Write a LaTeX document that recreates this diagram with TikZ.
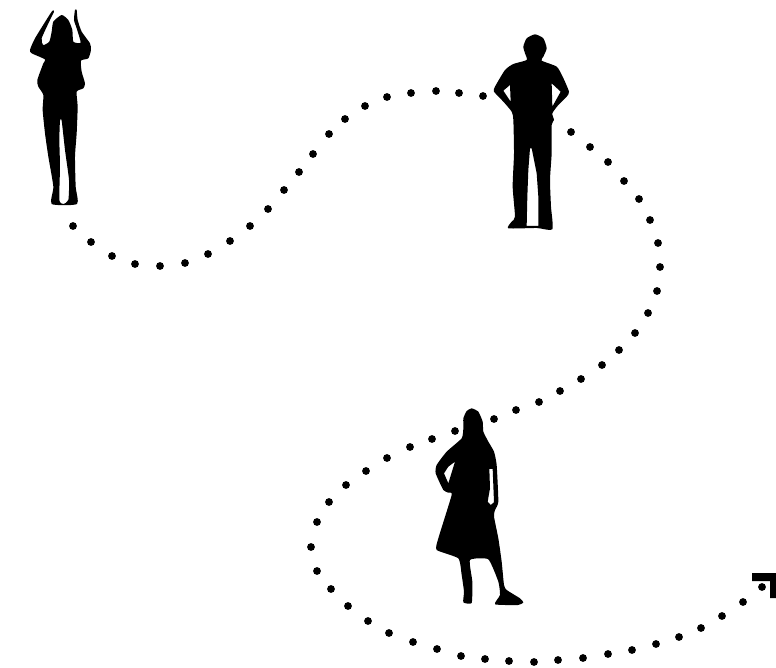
\documentclass[tikz,border=0pt]{standalone}

\begin{document}
\begin{tikzpicture}[
    x=0.02cm,
    y=-0.02cm,
    trail/.style={fill=black},
    figure/.style={fill=black, even odd rule, shift={#1}, scale=0.3333}
]

\useasboundingbox (0, 0) rectangle (776, 668);

% dotted trail
\foreach \px/\py in {
    73/226, 91/242, 112/256, 135/264, 160/266, 185/263, 208/254, 230/241,
    250/226, 268/209, 284/190, 299/172, 313/154, 329/134, 345/119, 365/106,
    387/97, 411/93, 436/91, 459/93, 483/96,
    571/132, 590/147, 608/162, 624/181, 639/199, 650/220, 658/243, 660/267,
    657/291, 648/313, 635/333, 619/350, 602/365, 581/379, 560/391, 539/402,
    516/410, 494/419, 455/431, 432/439, 410/447, 387/458, 366/471, 346/485,
    329/502, 317/522, 311/547, 317/571, 331/589, 348/606, 368/621, 389/633,
    413/642, 437/649, 461/656, 485/659, 509/661, 534/662, 558/660, 583/658,
    608/654, 632/650, 656/644, 679/637, 701/628, 722/616, 743/602, 762/587}
    \fill[trail] (\px, \py) circle (3.9);

% figure with raised arms
\fill[figure={(10, 0)}]
    plot[smooth cycle, tension=0.35] coordinates {
    (155,45) (175,60) (187,90) (190,125) (212,128) (200,85) (192,60) (195,30)
    (200,30) (203,60) (215,95) (240,130) (243,150) (235,175) (213,182)
    (215,215) (225,250) (220,265) (200,275) (203,320) (200,400) (195,470)
    (197,560) (201,612) (125,612) (130,560) (115,470) (105,400) (98,330)
    (100,285) (85,260) (82,240) (100,190) (105,178) (65,160) (60,150) (75,115)
    (125,35) (132,35) (120,60) (95,115) (100,135) (118,125) (125,95) (130,65)}
    plot[smooth cycle, tension=0.35] coordinates {
    (150,362) (155,362) (165,450) (177,540) (175,600) (160,612) (148,600)
    (150,500) (148,420)};

% figure with hands on hips
\fill[figure={(470, 20)}]
    plot[smooth cycle, tension=0.35] coordinates {
    (195,43) (220,55) (230,85) (220,110) (215,122) (260,140) (278,170) (297,215)
    (290,230) (265,255) (247,280) (252,300) (245,315) (245,400) (240,480)
    (243,560) (247,628) (200,624) (115,625) (125,605) (135,590) (128,500)
    (132,400) (130,300) (125,275) (100,245) (72,215) (75,200) (105,150)
    (130,132) (170,120) (165,100) (160,80) (170,55)}
    (180,385) -- (185,385) -- (200,460) -- (205,530) -- (205,618) -- (170,618)
    -- (172,530) -- (175,450) -- cycle
    (245,190) -- (272,215) -- (247,260) -- cycle
    (100,212) -- (120,195) -- (122,245) -- cycle;

% figure in a dress
\fill[figure={(420, 395)}]
    plot[smooth cycle, tension=0.3] coordinates {
    (155,40) (175,50) (188,80) (190,110) (205,140) (222,170) (230,210) (235,320)
    (225,345) (222,365) (235,430) (245,500) (252,570) (260,585) (300,610)
    (310,622) (295,630) (225,628) (240,600) (235,560) (205,493) (150,495)
    (157,560) (155,624) (130,622) (132,590) (125,540) (115,490) (50,465)
    (55,430) (95,300) (85,293) (70,285) (47,235) (50,210) (80,170) (125,130)
    (130,100) (130,70) (140,48)}
    (105,200) -- (85,265) -- (72,235) -- (85,215) -- cycle
    (208,222) -- (218,222) -- (222,322) -- (212,330) -- (203,320) -- (210,280) -- cycle;

% arrow head at the end of the trail
\fill[black] (752, 573) -- (776, 573) -- (776, 598) -- (770, 598) -- (770, 581)
    -- (752, 581) -- cycle;

\end{tikzpicture}
\end{document}
